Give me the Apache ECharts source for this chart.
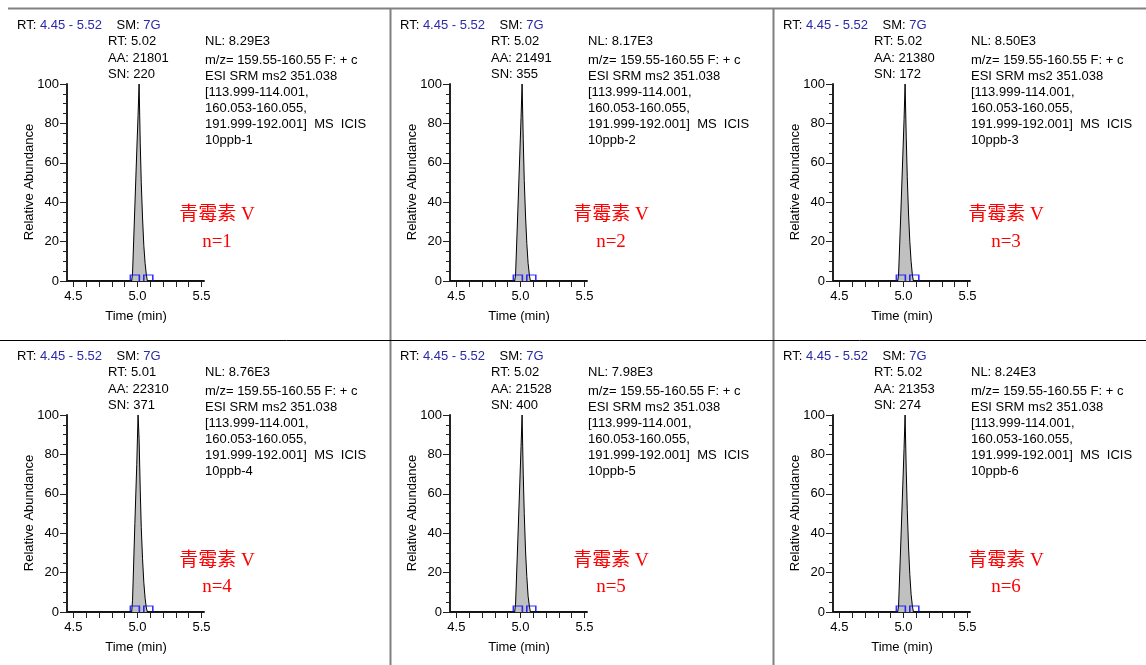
<!DOCTYPE html>
<html>
<head>
<meta charset="utf-8">
<script src="https://cdn.jsdelivr.net/npm/echarts@6/dist/echarts.min.js"></script>
<style>
html,body{margin:0;padding:0;background:#fff}
#main{width:1146px;height:665px}
</style>
</head>
<body>
<div id="main"></div>
<script>
// peak info
const peakRT = ['5.02', '5.02', '5.02', '5.01', '5.02', '5.02'];
const peakAA = [21801, 21491, 21380, 22310, 21528, 21353];
const peakSN = [220, 355, 172, 371, 400, 274];
const levelNL = ['8.29E3', '8.17E3', '8.50E3', '8.76E3', '7.98E3', '8.24E3'];
const sampleNames = ['10ppb-1', '10ppb-2', '10ppb-3', '10ppb-4', '10ppb-5', '10ppb-6'];

// chromatogram (time in min, relative abundance %)
const times = [4.45, 4.955, 4.962, 4.98, 4.995, 5.005, 5.013, 5.022, 5.03, 5.04, 5.05, 5.06, 5.07, 5.078, 5.52];
const abund1 = [0, 0, 4, 38, 66, 84, 100, 70, 50, 32, 18, 9, 3, 0, 0];
const abund2 = [0, 0, 3, 36, 64, 83, 100, 72, 51, 33, 19, 9, 3, 0, 0];
const abund3 = [0, 0, 3, 35, 63, 82, 100, 73, 53, 34, 20, 10, 3, 0, 0];
const abund4 = [0, 0, 6, 45, 75, 100, 88, 62, 43, 27, 15, 7, 2, 0, 0];
const abund5 = [0, 0, 4, 37, 65, 84, 100, 70, 50, 31, 18, 8, 3, 0, 0];
const abund6 = [0, 0, 3, 36, 64, 83, 100, 72, 52, 33, 19, 9, 3, 0, 0];
const abundances = [abund1, abund2, abund3, abund4, abund5, abund6];

// peak start / end markers
const markerTimes = [4.98, 5.085];

// axis ticks and labels
const xTicks = [4.5, 4.6, 4.7, 4.8, 4.9, 5.0, 5.1, 5.2, 5.3, 5.4, 5.5];
const xLabels = [4.5, 5.0, 5.5];
const xRange = [4.45, 5.52];

const fontSans = 'Liberation Sans, Arial, sans-serif';
const colX = [0, 383, 766];
const rowY = [0, 331];
const redCenterX = [217, 611, 1006];
const redY = [[215, 242], [561, 587]];

let chart = echarts.init(document.getElementById('main'));

let grids = [], xAxes = [], yAxes = [], series = [], graphics = [];

// frame lines
graphics.push({type: 'line', shape: {x1: 8, y1: 8.5, x2: 1146, y2: 8.5}, style: {stroke: '#808080', lineWidth: 2}});
graphics.push({type: 'line', shape: {x1: 390.5, y1: 8, x2: 390.5, y2: 665}, style: {stroke: '#808080', lineWidth: 2}});
graphics.push({type: 'line', shape: {x1: 773.5, y1: 8, x2: 773.5, y2: 665}, style: {stroke: '#808080', lineWidth: 2}});
graphics.push({type: 'line', shape: {x1: 0, y1: 340.5, x2: 1146, y2: 340.5}, style: {stroke: '#000', lineWidth: 1}});

function txt(x, y, text, extra) {
    return {
        type: 'text', x: x, y: y, z: 10,
        style: Object.assign({
            text: text, fill: '#000', fontSize: 13, fontFamily: fontSans,
            align: 'left', verticalAlign: 'middle',
            textAlign: 'left', textVerticalAlign: 'middle'
        }, extra || {})
    };
}

for (let i = 0; i < 6; i++) {
    let col = i % 3, row = Math.floor(i / 3);
    let ox = colX[col], oy = rowY[row];

    grids.push({left: ox + 67, top: oy + 84, width: 137, height: 197});

    xAxes.push({
        type: 'value', gridIndex: i, min: xRange[0], max: xRange[1],
        axisLine: {show: true, onZero: false, lineStyle: {color: '#222', width: 2}},
        axisTick: {show: true, length: 6, customValues: xTicks, lineStyle: {color: '#222'}},
        axisLabel: {
            customValues: xLabels, color: '#000', fontSize: 13, fontFamily: fontSans, margin: 9,
            formatter: function (v) { return v.toFixed(1); }
        },
        splitLine: {show: false}
    });

    yAxes.push({
        type: 'value', gridIndex: i, min: 0, max: 100, interval: 20,
        axisLine: {show: true, onZero: false, lineStyle: {color: '#222', width: 2}},
        axisTick: {show: true, length: 7, lineStyle: {color: '#222'}},
        minorTick: {show: true, splitNumber: 4, length: 4, lineStyle: {color: '#222'}},
        axisLabel: {color: '#000', fontSize: 13, fontFamily: fontSans, margin: 8},
        splitLine: {show: false}
    });

    series.push({
        type: 'line', xAxisIndex: i, yAxisIndex: i,
        data: times.map(function (t, k) { return [t, abundances[i][k]]; }),
        showSymbol: false, symbol: 'none',
        lineStyle: {color: '#000', width: 1},
        areaStyle: {color: '#c0c0c0', opacity: 1},
        z: 3
    });

    series.push({
        type: 'scatter', xAxisIndex: i, yAxisIndex: i,
        data: markerTimes.map(function (t) { return [t, 0]; }),
        symbol: 'path://M0,12L0,0L18,0L18,12',
        symbolSize: [9, 6],
        symbolOffset: [0, -3],
        itemStyle: {color: 'transparent', borderColor: '#0000ff', borderWidth: 1.3},
        z: 5
    });

    // header
    graphics.push(txt(ox + 17, oy + 25, '{k|RT:} {b|4.45 - 5.52}    {k|SM:} {b|7G}', {
        rich: {
            k: {fill: '#000', fontSize: 13, fontFamily: fontSans},
            b: {fill: '#2a2aa8', fontSize: 13, fontFamily: fontSans}
        }
    }));

    // peak labels
    graphics.push(txt(ox + 108, oy + 41.5, 'RT: ' + peakRT[i]));
    graphics.push(txt(ox + 108, oy + 58, 'AA: ' + peakAA[i]));
    graphics.push(txt(ox + 108, oy + 74.5, 'SN: ' + peakSN[i]));

    // scan info
    graphics.push(txt(ox + 205, oy + 41.5, 'NL: ' + levelNL[i]));
    let info = ['m/z= 159.55-160.55 F: + c', 'ESI SRM ms2 351.038', '[113.999-114.001,',
        '160.053-160.055,', '191.999-192.001]  MS  ICIS', sampleNames[i]];
    info.forEach(function (line, k) {
        graphics.push(txt(ox + 205, oy + 60 + k * 16, line));
    });

    // axis titles
    let yTitle = txt(ox + 29, oy + 182, 'Relative Abundance', {align: 'center', textAlign: 'center'});
    yTitle.rotation = Math.PI / 2;
    graphics.push(yTitle);
    graphics.push(txt(ox + 136, oy + 316, 'Time (min)', {align: 'center', textAlign: 'center'}));

    // compound label
    let redFont = {fill: '#ff0000', fontSize: 19, fontFamily: 'Liberation Serif, "Noto Sans CJK SC", serif',
        align: 'center', textAlign: 'center'};
    graphics.push(txt(redCenterX[col], redY[row][0], '青霉素 V', redFont));
    graphics.push(txt(redCenterX[col], redY[row][1], 'n=' + (i + 1), redFont));
}

chart.setOption({
    animation: false,
    backgroundColor: '#fff',
    grid: grids,
    xAxis: xAxes,
    yAxis: yAxes,
    series: series,
    graphic: graphics
});
</script>
</body>
</html>
